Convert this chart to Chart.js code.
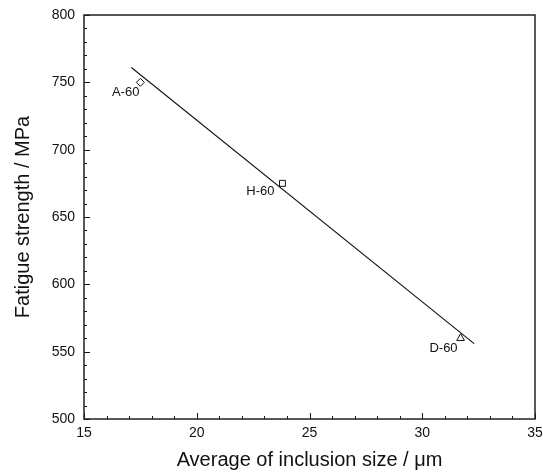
<!DOCTYPE html>
<html>
<head>
<meta charset="utf-8">
<script src="https://cdn.jsdelivr.net/npm/chart.js@4/dist/chart.umd.min.js"></script>
<style>
  html, body { margin: 0; padding: 0; background: #fff; }
  #wrap { width: 543px; height: 474px; }
</style>
</head>
<body>
<div id="wrap"><canvas id="c" width="543" height="474"></canvas></div>
<script>
// ---- data ----
const samples = ['A-60', 'H-60', 'D-60'];
const inclusionSize = [17.5, 23.8, 31.7];          // µm
const fatigueStrength = [750, 675, 560];           // MPa
const fitLineX = [17.1, 32.3];
const fitLineY = [761, 556];
const xRange = [15, 35];
const yRange = [500, 800];
const xMajorStep = 5, xMinorStep = 1;
const yMajorStep = 50, yMinorStep = 10;

const FONT = "'Liberation Sans', Arial, sans-serif";

const pointData = samples.map((s, i) => ({ x: inclusionSize[i], y: fatigueStrength[i] }));
const lineData = fitLineX.map((x, i) => ({ x: x, y: fitLineY[i] }));

// frame + inward ticks + point labels
const decorPlugin = {
  id: 'decor',
  afterDatasetsDraw(chart, args, opts) {
    const { ctx, chartArea: a, scales: { x, y } } = chart;
    ctx.save();
    ctx.strokeStyle = '#111';
    ctx.lineWidth = 1;
    for (let v = xRange[0]; v <= xRange[1] + 1e-9; v += xMinorStep) {
      const px = Math.round(x.getPixelForValue(v)) + 0.5;
      const major = Math.abs(v / xMajorStep - Math.round(v / xMajorStep)) < 1e-9;
      const len = major ? 6 : 3;
      ctx.beginPath();
      ctx.moveTo(px, a.bottom);
      ctx.lineTo(px, a.bottom - len);
      ctx.stroke();
    }
    for (let v = yRange[0]; v <= yRange[1] + 1e-9; v += yMinorStep) {
      const py = Math.round(y.getPixelForValue(v)) + 0.5;
      const major = Math.abs(v / yMajorStep - Math.round(v / yMajorStep)) < 1e-9;
      const len = major ? 6 : 3;
      ctx.beginPath();
      ctx.moveTo(a.left, py);
      ctx.lineTo(a.left + len, py);
      ctx.stroke();
    }
    ctx.lineWidth = 1.5;
    ctx.strokeStyle = '#222';
    ctx.strokeRect(a.left, a.top, a.right - a.left, a.bottom - a.top);
    ctx.fillStyle = '#111';
    ctx.font = '13px ' + FONT;
    ctx.textAlign = 'right';
    ctx.textBaseline = 'alphabetic';
    samples.forEach((s, i) => {
      const px = x.getPixelForValue(inclusionSize[i]);
      const py = y.getPixelForValue(fatigueStrength[i]);
      const off = opts.offsets[i];
      ctx.fillText(s, px + off[0], py + off[1]);
    });
    ctx.restore();
  }
};

new Chart(document.getElementById('c'), {
  type: 'scatter',
  data: {
    datasets: [
      {
        label: 'fit',
        data: lineData,
        showLine: true,
        borderColor: '#111',
        borderWidth: 1.1,
        pointRadius: 0,
        fill: false
      },
      {
        label: 'samples',
        data: pointData,
        showLine: false,
        pointStyle: ['rectRot', 'rect', 'triangle'],
        pointRadius: [4, 4.2, 4.5],
        pointBorderColor: '#111',
        pointBackgroundColor: 'rgba(0,0,0,0)',
        pointBorderWidth: 1
      }
    ]
  },
  options: {
    responsive: false,
    animation: false,
    devicePixelRatio: 1,
    layout: { padding: { left: 0, top: 15, right: 8, bottom: 0 } },
    plugins: {
      legend: { display: false },
      tooltip: { enabled: false },
      decor: { offsets: [[-1, 14], [-8, 12], [-3, 14]] }
    },
    scales: {
      x: {
        type: 'linear',
        min: xRange[0], max: xRange[1],
        grid: { display: false, drawTicks: false },
        border: { display: false },
        ticks: { stepSize: xMajorStep, color: '#111', padding: 6, font: { family: FONT, size: 14 } },
        title: { display: true, text: 'Average of inclusion size / μm', color: '#111',
                 font: { family: FONT, size: 20 }, padding: { top: 0, bottom: 2 } },
        afterFit(s) { s.height = 55; s.paddingLeft = 0; s.paddingRight = 0; }
      },
      y: {
        type: 'linear',
        min: yRange[0], max: yRange[1],
        grid: { display: false, drawTicks: false },
        border: { display: false },
        ticks: { stepSize: yMajorStep, color: '#111', padding: 9, font: { family: FONT, size: 14 } },
        title: { display: true, text: 'Fatigue strength / MPa', color: '#111',
                 font: { family: FONT, size: 20 }, padding: { top: 11, bottom: 0 } },
        afterFit(s) { s.width = 84; s.paddingTop = 0; s.paddingBottom = 0; }
      }
    }
  },
  plugins: [decorPlugin]
});
</script>
</body>
</html>
